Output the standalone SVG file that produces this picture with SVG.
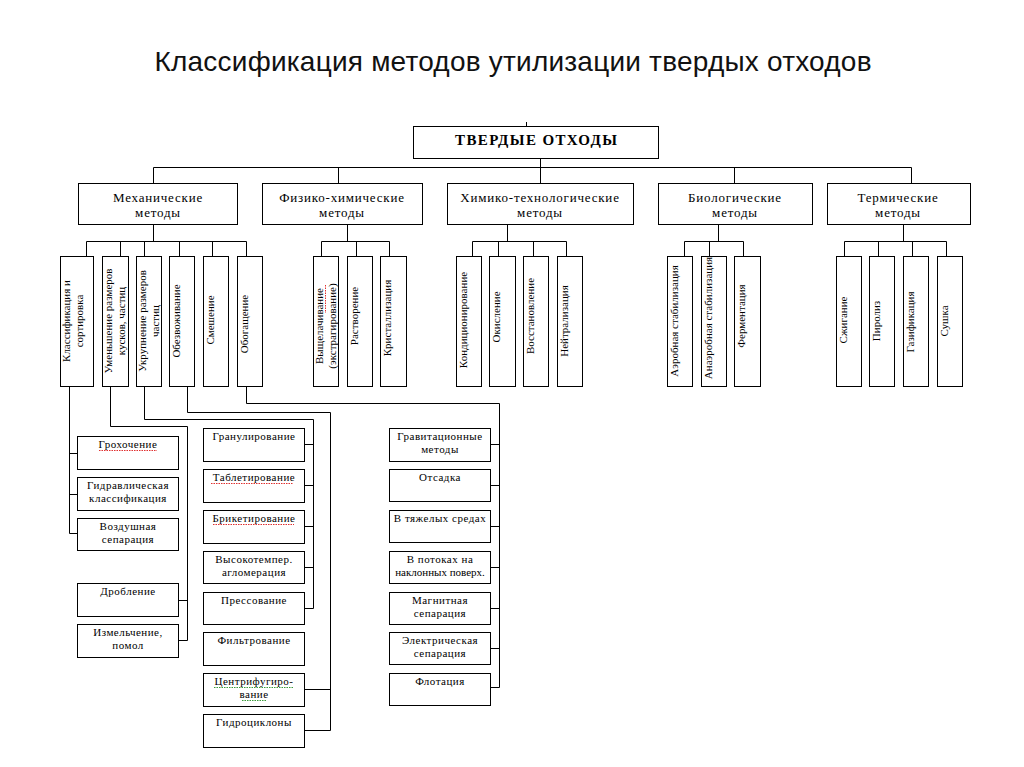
<svg xmlns="http://www.w3.org/2000/svg" width="1024" height="767" viewBox="0 0 1024 767">
<style>
.b{fill:#fff;stroke:#000;stroke-width:1}
.c{fill:none;stroke:#000;stroke-width:1}
.t{font-family:"Liberation Serif","Times New Roman",serif;font-size:11px;fill:#000;text-anchor:middle;letter-spacing:0.5px}
.g{font-size:13px;letter-spacing:0.8px}
.v{font-size:11px;letter-spacing:0}
.w{fill:none;stroke:#e03030;stroke-width:1;stroke-dasharray:1.5 1}
.wg{fill:none;stroke:#3a9a3a;stroke-width:1;stroke-dasharray:1.5 1}
</style>
<rect width="1024" height="767" fill="#fff"/>
<text x="513" y="71" font-family="Liberation Sans, Arial, sans-serif" font-size="28" fill="#111" text-anchor="middle" textLength="717" lengthAdjust="spacing">Классификация методов утилизации твердых отходов</text>

<g id="connectors" class="c">
  <path d="M526.5 122 V133"/>
  <path d="M540.5 158 V183 M153.5 167.5 H911.5 M153.5 167.5 V183 M338.5 167.5 V183 M734.5 167.5 V183 M911.5 167.5 V183"/>
  <path d="M153.5 224 V241.5 M86.5 241.5 H246.5 M86.5 241.5 V257 M120.5 241.5 V257 M144.5 241.5 V257 M179.5 241.5 V257 M212.5 241.5 V257 M246.5 241.5 V257"/>
  <path d="M347.5 224 V241.5 M321.5 241.5 H389.5 M321.5 241.5 V257 M356.5 241.5 V257 M389.5 241.5 V257"/>
  <path d="M507.5 224 V241.5 M472.5 241.5 H566.5 M472.5 241.5 V257 M498.5 241.5 V257 M533.5 241.5 V257 M566.5 241.5 V257"/>
  <path d="M718.5 224 V241.5 M684.5 241.5 H743.5 M684.5 241.5 V257 M709.5 241.5 V257 M743.5 241.5 V257"/>
  <path d="M903.5 224 V241.5 M844.5 241.5 H946.5 M844.5 241.5 V257 M878.5 241.5 V257 M912.5 241.5 V257 M946.5 241.5 V257"/>
  <path d="M69.5 387 V533.5 M69.5 453.5 H77 M69.5 494.5 H77 M69.5 533.5 H77"/>
  <path d="M110.5 387 V426.5 H187.5 V640.5 M178 600.5 H187.5 M178 640.5 H187.5"/>
  <path d="M144.5 387 V419.5 H313.5 V608.5 M304 444.5 H313.5 M304 485.5 H313.5 M304 526.5 H313.5 M304 567.5 H313.5 M304 608.5 H313.5"/>
  <path d="M187.5 387 V412.5 H330.5 V730.5 M304 689.5 H330.5 M304 730.5 H330.5"/>
  <path d="M246.5 387 V403.5 H499.5 V687.5 M490 444.5 H499.5 M490 485.5 H499.5 M490 526.5 H499.5 M490 567.5 H499.5 M490 608.5 H499.5 M490 648.5 H499.5 M490 687.5 H499.5"/>
</g>

<g id="root">
  <rect class="b" x="413.5" y="126.5" width="245" height="32"/>
  <text class="t" x="536" y="145" style="font-size:15px;font-weight:bold;letter-spacing:0" textLength="162" lengthAdjust="spacing">ТВЕРДЫЕ ОТХОДЫ</text>
</g>

<g id="mech">
  <rect class="b" x="78.5" y="183.5" width="159" height="41"/>
  <text class="t g" x="158" y="202">Механические</text>
  <text class="t g" x="158" y="217">методы</text>
</g>
<g id="physchem">
  <rect class="b" x="262.5" y="183.5" width="160" height="41"/>
  <text class="t g" x="342" y="202">Физико-химические</text>
  <text class="t g" x="342" y="217">методы</text>
</g>
<g id="chemtech">
  <rect class="b" x="447.5" y="183.5" width="186" height="41"/>
  <text class="t g" x="540" y="202">Химико-технологические</text>
  <text class="t g" x="540" y="217">методы</text>
</g>
<g id="bio">
  <rect class="b" x="658.5" y="183.5" width="154" height="41"/>
  <text class="t g" x="735" y="202">Биологические</text>
  <text class="t g" x="735" y="217">методы</text>
</g>
<g id="thermal">
  <rect class="b" x="827.5" y="183.5" width="143" height="41"/>
  <text class="t g" x="898" y="202">Термические</text>
  <text class="t g" x="898" y="217">методы</text>
</g>

<g id="v-klass"><rect class="b" x="60.5" y="256.5" width="33" height="130"/>
  <text class="t v" transform="translate(70,321) rotate(-90)">Классификация и</text>
  <text class="t v" transform="translate(83,321) rotate(-90)">сортировка</text></g>
<g id="v-umen"><rect class="b" x="102.5" y="256.5" width="26" height="130"/>
  <text class="t v" transform="translate(112,321) rotate(-90)">Уменьшение размеров</text>
  <text class="t v" transform="translate(125,321) rotate(-90)">кусков, частиц</text></g>
<g id="v-ukrup"><rect class="b" x="136.5" y="256.5" width="25" height="130"/>
  <text class="t v" transform="translate(146,321) rotate(-90)">Укрупнение размеров</text>
  <text class="t v" transform="translate(159,321) rotate(-90)">частиц</text></g>
<g id="v-obezv"><rect class="b" x="169.5" y="256.5" width="25" height="130"/>
  <text class="t v" transform="translate(180,321) rotate(-90)">Обезвоживание</text></g>
<g id="v-smesh"><rect class="b" x="203.5" y="256.5" width="25" height="130"/>
  <text class="t v" transform="translate(214,320) rotate(-90)">Смешение</text></g>
<g id="v-obog"><rect class="b" x="237.5" y="256.5" width="25" height="130"/>
  <text class="t v" transform="translate(248,324) rotate(-90)">Обогащение</text></g>

<g id="v-vysh"><rect class="b" x="313.5" y="256.5" width="25" height="130"/>
  <text class="t v" transform="translate(323,326) rotate(-90)">Выщелачивание</text>
  <text class="t v" transform="translate(336,326) rotate(-90)">(экстрагирование)</text>
  <path class="w" d="M325.5 285 V313"/></g>
<g id="v-rastv"><rect class="b" x="347.5" y="256.5" width="25" height="130"/>
  <text class="t v" transform="translate(358,316) rotate(-90)">Растворение</text></g>
<g id="v-krist"><rect class="b" x="380.5" y="256.5" width="26" height="130"/>
  <text class="t v" transform="translate(391,318) rotate(-90)">Кристаллизация</text></g>

<g id="v-kond"><rect class="b" x="456.5" y="256.5" width="25" height="130"/>
  <text class="t v" transform="translate(467,320) rotate(-90)">Кондиционирование</text></g>
<g id="v-okisl"><rect class="b" x="489.5" y="256.5" width="26" height="130"/>
  <text class="t v" transform="translate(500,317) rotate(-90)">Окисление</text></g>
<g id="v-vosst"><rect class="b" x="523.5" y="256.5" width="25" height="130"/>
  <text class="t v" transform="translate(534,316) rotate(-90)">Восстановление</text></g>
<g id="v-neitr"><rect class="b" x="557.5" y="256.5" width="25" height="130"/>
  <text class="t v" transform="translate(568,321) rotate(-90)">Нейтрализация</text></g>

<g id="v-aerob"><rect class="b" x="667.5" y="256.5" width="25" height="130"/>
  <text class="t v" transform="translate(678,321) rotate(-90)">Аэробная стабилизация</text></g>
<g id="v-anaerob"><rect class="b" x="701.5" y="256.5" width="25" height="130"/>
  <text class="t v" transform="translate(712,318) rotate(-90)">Анаэробная стабилизация</text></g>
<g id="v-ferm"><rect class="b" x="734.5" y="256.5" width="26" height="130"/>
  <text class="t v" transform="translate(745,316) rotate(-90)">Ферментация</text></g>

<g id="v-szhig"><rect class="b" x="836.5" y="256.5" width="25" height="130"/>
  <text class="t v" transform="translate(847,320) rotate(-90)">Сжигание</text></g>
<g id="v-piroliz"><rect class="b" x="869.5" y="256.5" width="25" height="130"/>
  <text class="t v" transform="translate(880,321) rotate(-90)">Пиролиз</text></g>
<g id="v-gazif"><rect class="b" x="903.5" y="256.5" width="25" height="130"/>
  <text class="t v" transform="translate(914,322) rotate(-90)">Газификация</text></g>
<g id="v-sushka"><rect class="b" x="937.5" y="256.5" width="25" height="130"/>
  <text class="t v" transform="translate(948,321) rotate(-90)">Сушка</text></g>

<g id="l-groh"><rect class="b" x="77.5" y="436.5" width="101" height="33"/>
  <text class="t" x="128" y="448">Грохочение</text><path class="w" d="M99 450.5 H157"/></g>
<g id="l-gidr"><rect class="b" x="77.5" y="477.5" width="101" height="33"/>
  <text class="t" x="128" y="489">Гидравлическая</text><text class="t" x="128" y="502">классификация</text></g>
<g id="l-vozd"><rect class="b" x="77.5" y="518.5" width="101" height="32"/>
  <text class="t" x="128" y="530">Воздушная</text><text class="t" x="128" y="543">сепарация</text></g>
<g id="l-drob"><rect class="b" x="77.5" y="583.5" width="101" height="33"/>
  <text class="t" x="128" y="595">Дробление</text></g>
<g id="l-izm"><rect class="b" x="77.5" y="624.5" width="101" height="33"/>
  <text class="t" x="128" y="636">Измельчение,</text><text class="t" x="128" y="649">помол</text></g>

<g id="m-granul"><rect class="b" x="203.5" y="428.5" width="101" height="33"/>
  <text class="t" x="254" y="440">Гранулирование</text></g>
<g id="m-tabl"><rect class="b" x="203.5" y="469.5" width="101" height="33"/>
  <text class="t" x="254" y="481">Таблетирование</text><path class="w" d="M211 483.5 H293"/></g>
<g id="m-brik"><rect class="b" x="203.5" y="510.5" width="101" height="33"/>
  <text class="t" x="254" y="522">Брикетирование</text><path class="w" d="M213 524.5 H294"/></g>
<g id="m-vysok"><rect class="b" x="203.5" y="551.5" width="101" height="32"/>
  <text class="t" x="254" y="563">Высокотемпер.</text><text class="t" x="254" y="576">агломерация</text></g>
<g id="m-press"><rect class="b" x="203.5" y="592.5" width="101" height="32"/>
  <text class="t" x="254" y="604">Прессование</text></g>
<g id="m-filtr"><rect class="b" x="203.5" y="632.5" width="101" height="33"/>
  <text class="t" x="254" y="644">Фильтрование</text></g>
<g id="m-centr"><rect class="b" x="203.5" y="673.5" width="101" height="33"/>
  <text class="t" x="254" y="685">Центрифугиро-</text><text class="t" x="254" y="698">вание</text>
  <path class="wg" d="M214 687.5 H294 M242 700.5 H267"/></g>
<g id="m-gidroc"><rect class="b" x="203.5" y="714.5" width="101" height="33"/>
  <text class="t" x="254" y="726">Гидроциклоны</text></g>

<g id="r-grav"><rect class="b" x="389.5" y="428.5" width="101" height="33"/>
  <text class="t" x="440" y="440">Гравитационные</text><text class="t" x="440" y="453">методы</text></g>
<g id="r-otsad"><rect class="b" x="389.5" y="469.5" width="101" height="32"/>
  <text class="t" x="440" y="481">Отсадка</text></g>
<g id="r-tyazh"><rect class="b" x="389.5" y="510.5" width="101" height="32"/>
  <text class="t" x="440" y="522">В тяжелых средах</text></g>
<g id="r-potok"><rect class="b" x="389.5" y="551.5" width="101" height="32"/>
  <text class="t" x="440" y="563">В потоках на</text><text class="t" x="440" y="576" style="letter-spacing:0">наклонных поверх.</text></g>
<g id="r-magn"><rect class="b" x="389.5" y="592.5" width="101" height="32"/>
  <text class="t" x="440" y="604">Магнитная</text><text class="t" x="440" y="617">сепарация</text></g>
<g id="r-elektr"><rect class="b" x="389.5" y="632.5" width="101" height="32"/>
  <text class="t" x="440" y="644">Электрическая</text><text class="t" x="440" y="657">сепарация</text></g>
<g id="r-flot"><rect class="b" x="389.5" y="673.5" width="101" height="32"/>
  <text class="t" x="440" y="685">Флотация</text></g>
</svg>
